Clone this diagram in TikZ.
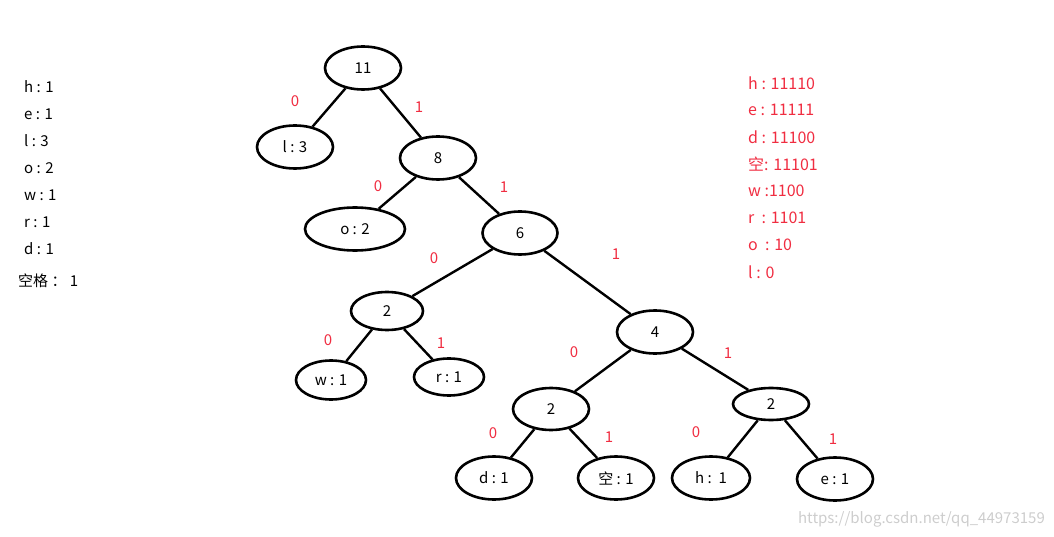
\documentclass[tikz,border=0pt]{standalone}
\usepackage{fontspec}
\setmainfont{Noto Sans CJK SC}
\usepackage{tikz}
\usetikzlibrary{shapes,positioning}
\definecolor{hfred}{RGB}{240,45,65}
\definecolor{hfgray}{RGB}{205,205,205}
\tikzstyle{knot} = [ellipse, draw=black, line width=2.6pt, inner sep=0pt, minimum width=76pt, minimum height=43pt, font=\fontsize{15}{17}\selectfont]
\tikzstyle{bit} = [text=hfred, inner sep=0pt, font=\fontsize{15}{17}\selectfont]
\tikzstyle{item} = [anchor=west, inner sep=0pt, font=\fontsize{15}{17}\selectfont]
\tikzstyle{code} = [item, text=hfred, font=\fontsize{16}{18}\selectfont]
\tikzstyle{edge} = [line width=2.4pt, color=black]

\begin{document}
\begin{tikzpicture}[x=1pt, y=-1pt]
\useasboundingbox (0,0) rectangle (1054,537);
% Weights
\node (wh) [item] at (24,87) {h : 1};
\node (we) [item] at (24,114) {e : 1};
\node (wl) [item] at (24,141) {l : 3};
\node (wo) [item] at (24,168) {o : 2};
\node (ww) [item] at (24,195) {w : 1};
\node (wr) [item] at (24,222) {r : 1};
\node (wd) [item] at (24,249) {d : 1};
\node (wk) [item] at (18,281) {空格 ： 1};
% Codes
\node (ch) [code] at (748,83) {h : 11110};
\node (ce) [code] at (748,110) {e : 11111};
\node (cd) [code] at (748,137) {d : 11100};
\node (ck) [code] at (748,164) {空: 11101};
\node (cw) [code] at (748,191) {w :1100};
\node (cr) [code] at (748,218) {r\ \ : 1101};
\node (co) [code] at (748,245) {o\ \ : 10};
\node (cl) [code] at (748,272) {l : 0};
% Tree
\node (n11) [knot] at (363,68) {11};
\node (l3) [knot] at (295,147) {l : 3};
\node (n8) [knot] at (438,158) {8};
\node (o2) [knot, minimum width=100pt] at (355,229) {o : 2};
\node (n6) [knot, minimum width=75pt] at (520,233) {6};
\node (n2a) [knot, minimum width=72pt, minimum height=38pt] at (387,311) {2};
\node (w1) [knot, minimum width=70pt, minimum height=39pt] at (331,380) {w : 1};
\node (r1) [knot, minimum width=70pt, minimum height=37pt] at (449,377) {r : 1};
\node (n4) [knot] at (655,332) {4};
\node (n2b) [knot, minimum height=42pt] at (551,409) {2};
\node (n2c) [knot, minimum height=32pt] at (771,404) {2};
\node (d1) [knot] at (494,478) {d : 1};
\node (k1) [knot] at (616,478) {空 : 1};
\node (h1) [knot, minimum width=78pt] at (711,478) {h :\ \ 1};
\node (e1) [knot] at (835,479) {e : 1};
% Edges
\draw[edge] (n11) -- (l3);
\draw[edge] (n11) -- (n8);
\draw[edge] (n8) -- (o2);
\draw[edge] (n8) -- (n6);
\draw[edge] (n6) -- (n2a);
\draw[edge] (n6) -- (n4);
\draw[edge] (n2a) -- (w1);
\draw[edge] (n2a) -- (r1);
\draw[edge] (n4) -- (n2b);
\draw[edge] (n4) -- (n2c);
\draw[edge] (n2b) -- (d1);
\draw[edge] (n2b) -- (k1);
\draw[edge] (n2c) -- (h1);
\draw[edge] (n2c) -- (e1);
% Bits
\node (b1) [bit] at (295,101) {0};
\node (b2) [bit] at (419,107) {1};
\node (b3) [bit] at (378,186) {0};
\node (b4) [bit] at (504,187) {1};
\node (b5) [bit] at (434,258) {0};
\node (b6) [bit] at (616,254) {1};
\node (b7) [bit] at (328,340) {0};
\node (b8) [bit] at (441,343) {1};
\node (b9) [bit] at (574,352) {0};
\node (b10) [bit] at (728,353) {1};
\node (b11) [bit] at (493,433) {0};
\node (b12) [bit] at (609,437) {1};
\node (b13) [bit] at (696,432) {0};
\node (b14) [bit] at (833,439) {1};
% Mark
\node (mark) [text=hfgray, inner sep=0pt, anchor=east, font=\fontsize{15}{17}\selectfont] at (1045,519) {https://blog.csdn.net/qq\_44973159};
\end{tikzpicture}
\end{document}
